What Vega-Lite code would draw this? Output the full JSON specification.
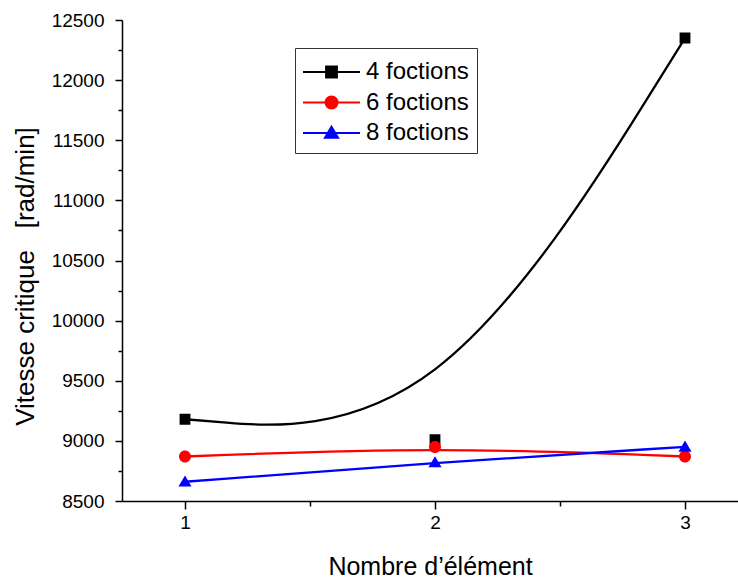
{
  "$schema": "https://vega.github.io/schema/vega-lite/v6.json",
  "width": 616,
  "height": 481,
  "autosize": {"type": "none"},
  "padding": {"left": 122, "top": 20, "right": 0, "bottom": 81},
  "background": "white",
  "config": {
    "view": {"stroke": null},
    "font": "Liberation Sans",
    "axis": {"grid": false, "domainColor": "#000", "tickColor": "#000", "domainWidth": 1.5, "tickWidth": 1.5, "labelColor": "#000", "titleColor": "#000", "labelFont": "Liberation Sans", "titleFont": "Liberation Sans", "titleFontWeight": "normal"}
  },
  "data": {
    "values": [
      {"n": 1, "serie": "4 foctions", "v": 9180},
      {"n": 2, "serie": "4 foctions", "v": 9010},
      {"n": 3, "serie": "4 foctions", "v": 12350},
      {"n": 1, "serie": "6 foctions", "v": 8870},
      {"n": 2, "serie": "6 foctions", "v": 8950},
      {"n": 3, "serie": "6 foctions", "v": 8870},
      {"n": 1, "serie": "8 foctions", "v": 8660},
      {"n": 2, "serie": "8 foctions", "v": 8820},
      {"n": 3, "serie": "8 foctions", "v": 8950}
    ]
  },
  "encoding": {
    "x": {
      "field": "n", "type": "quantitative",
      "scale": {"domain": [0.748, 3.212], "nice": false, "zero": false},
      "axis": {
        "title": "Nombre d’élément",
        "values": [1, 1.5, 2, 2.5, 3],
        "labelExpr": "datum.value % 1 === 0 ? format(datum.value, 'd') : ''",
        "tickSize": {"condition": {"test": "datum.value % 1 === 0", "value": 8}, "value": 5},
        "labelFontSize": 19,
        "labelPadding": 4,
        "titleFontSize": 25,
        "titlePadding": 22,
        "labelFlush": false
      }
    },
    "y": {
      "field": "v", "type": "quantitative",
      "scale": {"domain": [8500, 12500], "nice": false, "zero": false},
      "axis": {
        "title": "Vitesse critique\u00a0\u00a0\u00a0[rad/min]",
        "values": [8500, 8750, 9000, 9250, 9500, 9750, 10000, 10250, 10500, 10750, 11000, 11250, 11500, 11750, 12000, 12250, 12500],
        "labelExpr": "datum.value % 500 === 0 ? format(datum.value, 'd') : ''",
        "tickSize": {"condition": {"test": "datum.value % 500 === 0", "value": 7}, "value": 4},
        "labelFontSize": 19,
        "labelPadding": 11,
        "titleFontSize": 26,
        "titleAngle": -90,
        "titleX": -97,
        "titleY": 256,
        "titleAlign": "center",
        "titleBaseline": "middle",
        "labelFlush": false
      }
    },
    "color": {
      "field": "serie", "type": "nominal",
      "scale": {"domain": ["4 foctions", "6 foctions", "8 foctions"], "range": ["#000000", "#ff0000", "#0000ff"]},
      "legend": {
        "title": null,
        "orient": "none",
        "legendX": 173,
        "legendY": 28,
        "strokeColor": "#333",
        "padding": 8,
        "rowPadding": 2.5,
        "labelFontSize": 24,
        "labelColor": "#000",
        "labelOffset": 18.5,
        "symbolSize": 900,
        "symbolOffset": 12.5,
        "symbolStrokeWidth": 2,
        "encode": {
          "symbols": {
            "update": {
              "stroke": {"signal": "datum.value === '4 foctions' ? '#000000' : datum.value === '6 foctions' ? '#ff0000' : '#0000ff'"},
              "fill": {"signal": "datum.value === '4 foctions' ? '#000000' : datum.value === '6 foctions' ? '#ff0000' : '#0000ff'"},
              "strokeWidth": {"value": 2},
              "size": {"value": 900}
            }
          }
        }
      }
    }
  },
  "layer": [
    {
      "mark": {"type": "line", "interpolate": "basis", "strokeWidth": 2.3}
    },
    {
      "mark": {"type": "point", "filled": true, "opacity": 1, "size": 900, "strokeWidth": 0},
      "encoding": {
        "shape": {
          "field": "serie", "type": "nominal",
          "scale": {"domain": ["4 foctions", "6 foctions", "8 foctions"], "range": ["M-1.9,0H1.9M-0.361,-0.361H0.361V0.361H-0.361Z", "M-1.9,0H1.9M0.4,0A0.4,0.4 0 1,1 -0.4,0A0.4,0.4 0 1,1 0.4,0Z", "M-1.9,0H1.9M0,-0.418L0.437,0.323L-0.437,0.323Z"]},
          "legend": null
        }
      }
    }
  ]
}
